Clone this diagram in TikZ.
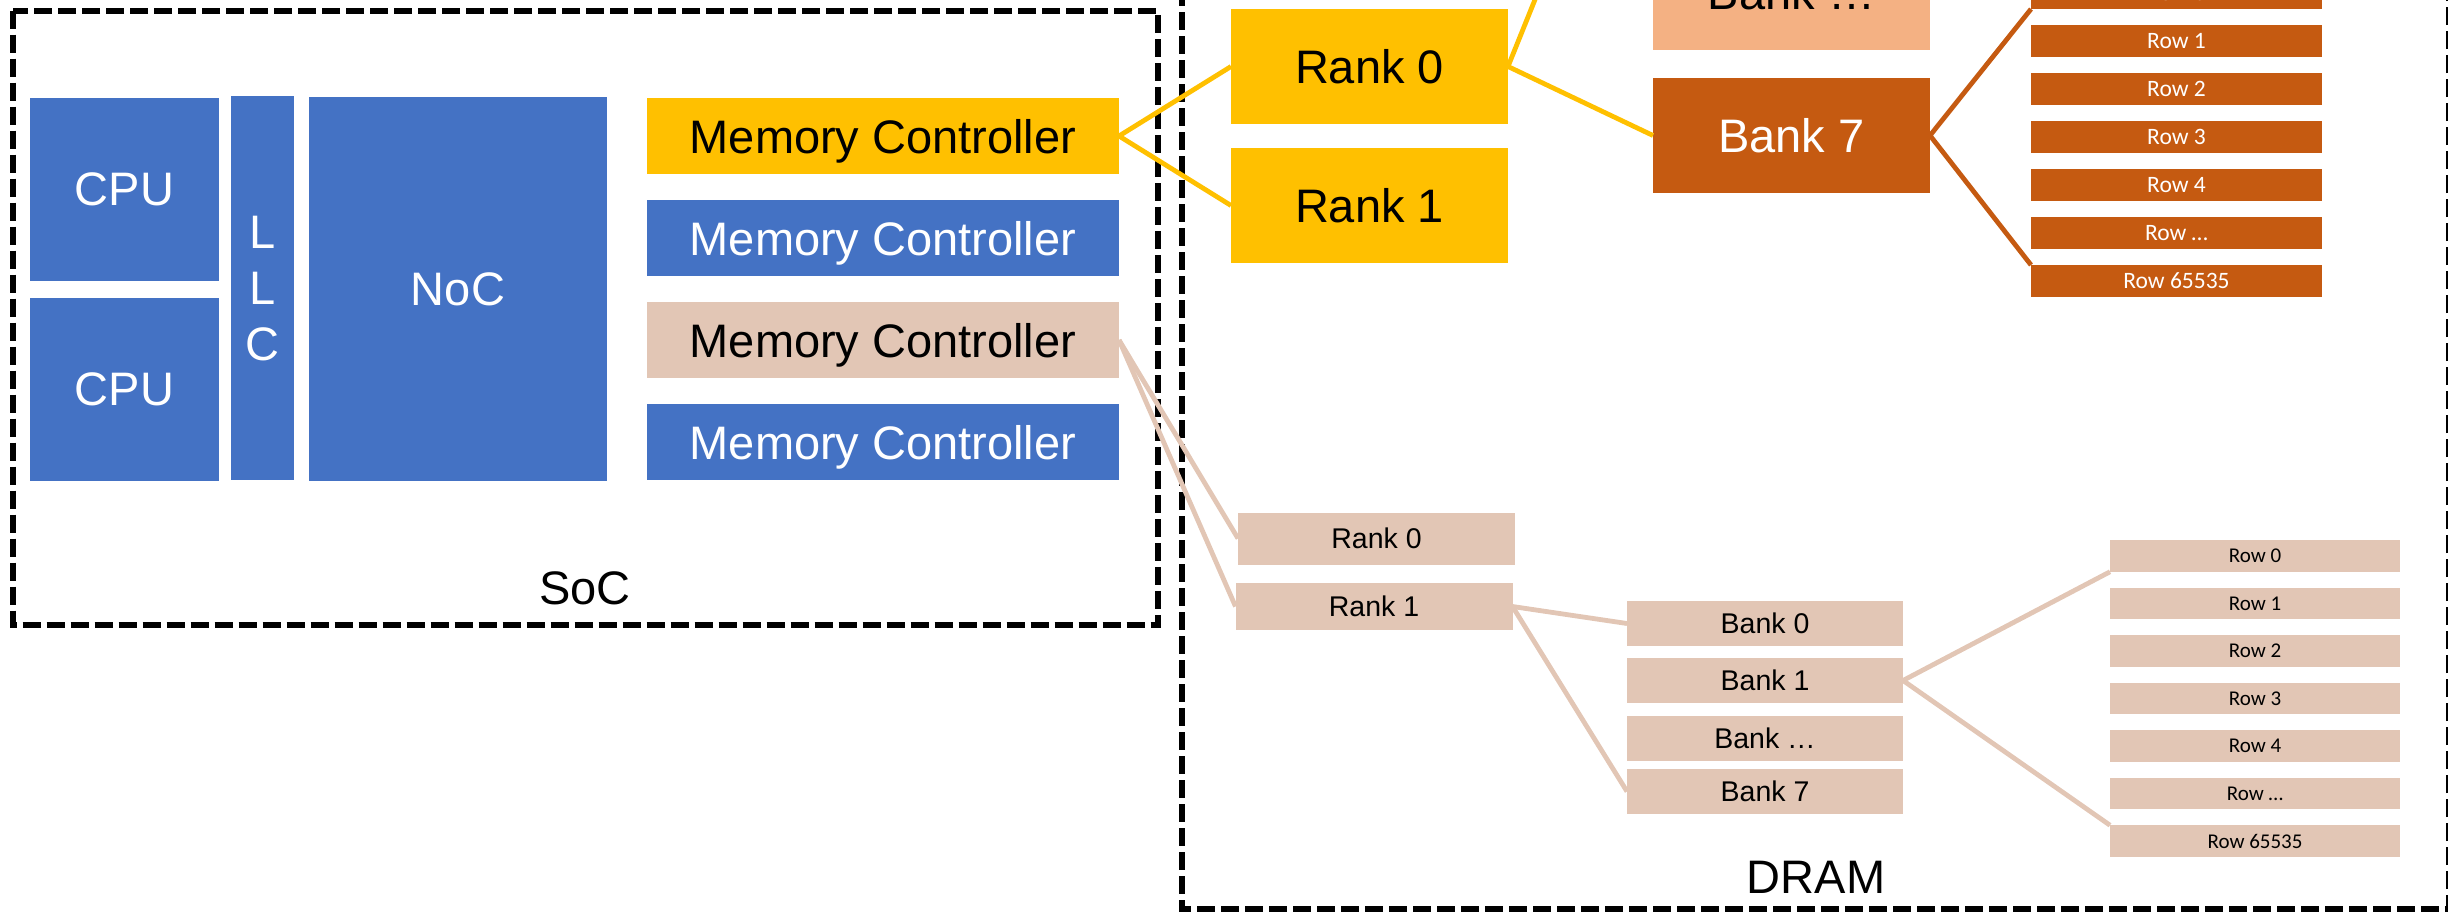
\documentclass[tikz,border=0pt]{standalone}
\usepackage{fontspec}
\setmainfont{Liberation Sans}
\newfontfamily\rowfamily{Carlito}
\usetikzlibrary{positioning}

\definecolor{socblue}{HTML}{4472C4}
\definecolor{mcyellow}{HTML}{FFC000}
\definecolor{chbeige}{HTML}{E2C6B5}
\definecolor{bankorange}{HTML}{C55A11}
\definecolor{lightorange}{HTML}{F4B183}

\newcommand\lgfont{\fontsize{47}{56}\selectfont}
\newcommand\smfont{\fontsize{28.5}{34}\selectfont}

\tikzset{
  box/.style={rectangle,inner sep=0pt,outer sep=0pt,text depth=0pt},
  socbox/.style={box,fill=socblue,text=white,font=\lgfont},
  mc/.style={box,minimum width=472pt,minimum height=76pt,font=\lgfont},
  rankbig/.style={box,fill=mcyellow,minimum width=277pt,minimum height=115pt,font=\lgfont},
  bankbig/.style={box,minimum width=277pt,minimum height=115pt,font=\lgfont},
  rowbig/.style={box,fill=bankorange,text=white,minimum width=291pt,minimum height=32pt,font=\rowfamily\fontsize{23.5}{28}\selectfont},
  ranksmall/.style={box,fill=chbeige,minimum width=277pt,font=\smfont},
  banksmall/.style={box,fill=chbeige,minimum width=276pt,minimum height=45pt,font=\smfont},
  rowsmall/.style={box,fill=chbeige,minimum width=290pt,minimum height=31.5pt,font=\rowfamily\fontsize{21}{25}\selectfont},
  link/.style={line width=4.8pt},
  dashbox/.style={line width=6pt,dash pattern=on 18pt off 6pt},
}

\begin{document}
\begin{tikzpicture}[x=1pt,y=-1pt]
  \clip (0,0) rectangle (2448,914);
  \draw[dashbox] (13,10.5) rectangle (1158,625);
  \draw[dashbox] (1182,-300) rectangle (2449,909);

  \node(cpu1)[socbox,minimum width=189pt,minimum height=183pt] at (124.5,189.5){CPU};
  \node(cpu2)[socbox,minimum width=189pt,minimum height=183pt] at (124.5,389.5){CPU};
  \node(llc)[socbox,minimum width=63pt,minimum height=384pt,align=center] at (262.5,288){L\\L\\C};
  \node(noc)[socbox,minimum width=298pt,minimum height=384pt] at (458,289){NoC};
  \node(mc1)[mc,fill=mcyellow] at (883,136){Memory Controller};
  \node(mc2)[mc,fill=socblue,text=white,below=26pt of mc1]{Memory Controller};
  \node(mc3)[mc,fill=chbeige,below=26pt of mc2]{Memory Controller};
  \node(mc4)[mc,fill=socblue,text=white,below=26pt of mc3]{Memory Controller};
  \node(soc)[font=\lgfont] at (585,588){SoC};

  \node(rank0)[rankbig] at (1369.5,66.5){Rank 0};
  \node(rank1)[rankbig,below=24pt of rank0]{Rank 1};
  \node(bank7)[bankbig,fill=bankorange,text=white] at (1791.5,135.5){Bank 7};
  \node(bankdots)[bankbig,fill=lightorange,above=28pt of bank7]{Bank …};
  \coordinate(bank0) at (1653,-293);
  \node(row0)[rowbig] at (2176.5,-7){Row 0};
  \node(row1)[rowbig,below=16pt of row0]{Row 1};
  \node(row2)[rowbig,below=16pt of row1]{Row 2};
  \node(row3)[rowbig,below=16pt of row2]{Row 3};
  \node(row4)[rowbig,below=16pt of row3]{Row 4};
  \node(rowdots)[rowbig,below=16pt of row4]{Row …};
  \node(rowlast)[rowbig,below=16pt of rowdots]{Row 65535};

  \node(brank0)[ranksmall,minimum height=52pt] at (1376.5,538.5){Rank 0};
  \node(brank1)[ranksmall,minimum height=47pt] at (1374,606.5){Rank 1};
  \node(bbank0)[banksmall] at (1765,623.5){Bank 0};
  \node(bbank1)[banksmall] at (1765,680.5){Bank 1};
  \node(bbankdots)[banksmall] at (1765,738.5){Bank …};
  \node(bbank7)[banksmall] at (1765,791.5){Bank 7};
  \node(brow0)[rowsmall] at (2255,556){Row 0};
  \node(brow1)[rowsmall,below=16pt of brow0]{Row 1};
  \node(brow2)[rowsmall,below=16pt of brow1]{Row 2};
  \node(brow3)[rowsmall,below=16pt of brow2]{Row 3};
  \node(brow4)[rowsmall,below=16pt of brow3]{Row 4};
  \node(browdots)[rowsmall,below=16pt of brow4]{Row …};
  \node(browlast)[rowsmall,below=16pt of browdots]{Row 65535};
  \node(dram)[font=\lgfont] at (1816,877){DRAM};

  \draw[link,mcyellow](mc1.east)--(rank0.west);
  \draw[link,mcyellow](mc1.east)--(rank1.west);
  \draw[link,mcyellow](rank0.east)--(bank0);
  \draw[link,mcyellow](rank0.east)--(bank7.west);
  \draw[link,bankorange](bank7.east)--(row0.south west);
  \draw[link,bankorange](bank7.east)--(rowlast.north west);

  \draw[link,chbeige](mc3.east)--(brank0.west);
  \draw[link,chbeige](mc3.east)--(brank1.west);
  \draw[link,chbeige](brank1.east)--(bbank0.west);
  \draw[link,chbeige](brank1.east)--(bbank7.west);
  \draw[link,chbeige](bbank1.east)--(brow0.south west);
  \draw[link,chbeige](bbank1.east)--(browlast.north west);
\end{tikzpicture}
\end{document}
